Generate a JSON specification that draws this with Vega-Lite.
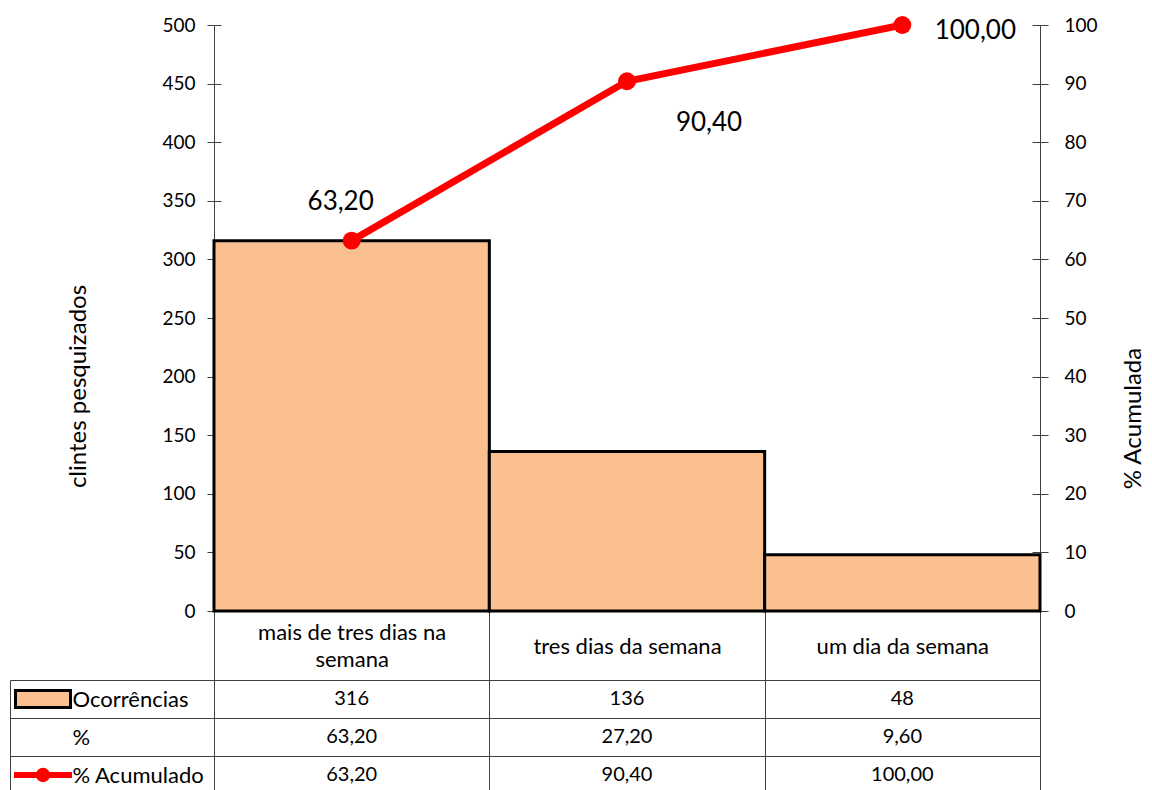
{
  "$schema": "https://vega.github.io/schema/vega-lite/v6.json",
  "background": "white",
  "padding": {"left": 2, "top": 11, "right": 0, "bottom": 0},
  "config": {
    "view": {"stroke": null},
    "font": "Lato",
    "axis": {
      "labelFont": "Lato",
      "titleFont": "Lato",
      "labelColor": "#000000",
      "titleColor": "#000000",
      "titleFontWeight": "normal",
      "labelFontSize": 19,
      "titleFontSize": 24,
      "domainColor": "#404040",
      "tickColor": "#404040",
      "grid": false
    },
    "locale": {
      "number": {"decimal": ",", "thousands": ".", "grouping": [3], "currency": ["R$", ""]}
    }
  },
  "datasets": {
    "pareto": [
      {"categoria": "mais de tres dias na semana", "ocorrencias": 316, "percentual": 63.2, "acumulado": 63.2},
      {"categoria": "tres dias da semana", "ocorrencias": 136, "percentual": 27.2, "acumulado": 90.4},
      {"categoria": "um dia da semana", "ocorrencias": 48, "percentual": 9.6, "acumulado": 100}
    ]
  },
  "data": {"name": "pareto"},
  "bounds": "flush",
  "spacing": 69,
  "vconcat": [
    {
      "width": 826,
      "height": 586,
      "encoding": {
        "x": {
          "field": "categoria",
          "type": "nominal",
          "sort": null,
          "scale": {"paddingInner": 0, "paddingOuter": 0},
          "axis": {
            "title": null,
            "labelAngle": 0,
            "tickBand": "extent",
            "tickSize": 69,
            "domainColor": "#000000",
            "labelFontSize": 22,
            "labelPadding": {
              "condition": {"test": "datum.value == 'mais de tres dias na semana'", "value": -48},
              "value": -34
            },
            "labelBaseline": "middle",
            "labelLimit": 280,
            "labelLineHeight": 27,
            "labelExpr": "datum.label == 'mais de tres dias na semana' ? ['mais de tres dias na', 'semana'] : datum.label"
          }
        }
      },
      "layer": [
        {
          "mark": {"type": "bar", "fill": "#FAC090", "stroke": "#000000", "strokeWidth": 3},
          "encoding": {
            "y": {
              "field": "ocorrencias",
              "type": "quantitative",
              "scale": {"domain": [0, 500], "nice": false},
              "axis": {
                "orient": "left",
                "values": [0, 50, 100, 150, 200, 250, 300, 350, 400, 450, 500],
                "format": "d",
                "tickSize": 7,
                "labelPadding": 12,
                "title": "clintes pesquizados",
                "titleAngle": 270,
                "titleAlign": "center",
                "titleBaseline": "middle",
                "titleX": -136,
                "titleY": 361
              }
            }
          }
        },
        {
          "mark": {"type": "line", "stroke": "#FF0000", "strokeWidth": 7},
          "encoding": {
            "y": {
              "field": "acumulado",
              "type": "quantitative",
              "scale": {"domain": [0, 100], "nice": false},
              "axis": {
                "orient": "right",
                "values": [0, 10, 20, 30, 40, 50, 60, 70, 80, 90, 100],
                "format": "d",
                "tickSize": 8,
                "labelPadding": 16,
                "title": "% Acumulada",
                "titleAngle": 270,
                "titleAlign": "center",
                "titleBaseline": "middle",
                "titleX": 93,
                "titleY": 393
              }
            }
          }
        },
        {
          "mark": {"type": "circle", "size": 320, "color": "#FF0000", "opacity": 1},
          "encoding": {
            "y": {
              "field": "acumulado",
              "type": "quantitative",
              "scale": {"domain": [0, 100], "nice": false},
              "axis": {
                "orient": "left",
                "values": [0, 10, 20, 30, 40, 50, 60, 70, 80, 90, 100],
                "tickSize": -7,
                "labels": false,
                "domain": false,
                "title": null
              }
            }
          }
        },
        {
          "encoding": {
            "y": {
              "field": "acumulado",
              "type": "quantitative",
              "scale": {"domain": [0, 100], "nice": false},
              "axis": {
                "orient": "right",
                "values": [0, 10, 20, 30, 40, 50, 60, 70, 80, 90, 100],
                "tickSize": -8,
                "labels": false,
                "domain": false,
                "title": null
              }
            },
            "text": {"field": "acumulado", "type": "quantitative", "format": ".2f"}
          },
          "layer": [
            {
              "transform": [{"filter": "datum.categoria == 'mais de tres dias na semana'"}],
              "mark": {"type": "text", "fontSize": 26, "dx": -11, "dy": -39, "color": "#000000"}
            },
            {
              "transform": [{"filter": "datum.categoria == 'tres dias da semana'"}],
              "mark": {"type": "text", "fontSize": 26, "dx": 82, "dy": 42, "color": "#000000"}
            },
            {
              "transform": [{"filter": "datum.categoria == 'um dia da semana'"}],
              "mark": {"type": "text", "fontSize": 26, "dx": 73, "dy": 6, "color": "#000000"}
            }
          ]
        }
      ],
      "resolve": {"scale": {"y": "independent"}}
    },
    {
      "width": 826,
      "height": 114,
      "layer": [
        {
          "encoding": {
            "x": {
              "field": "categoria",
              "type": "nominal",
              "sort": null,
              "scale": {"paddingInner": 0, "paddingOuter": 0},
              "axis": {
                "title": null,
                "labels": false,
                "ticks": false,
                "domain": false,
                "grid": true,
                "tickBand": "extent",
                "gridColor": "#404040",
                "gridOpacity": 1
              }
            }
          },
          "layer": [
            {
              "mark": {"type": "text", "fontSize": 20, "color": "#000000"},
              "encoding": {
                "y": {
                  "datum": "Ocorrências",
                  "type": "nominal",
                  "scale": {"domain": ["Ocorrências", "%", "% Acumulado"], "paddingInner": 0, "paddingOuter": 0},
                  "axis": {
                    "orient": "left",
                    "title": null,
                    "offset": 204,
                    "domain": true,
                    "domainColor": "#404040",
                    "tickBand": "extent",
                    "tickSize": -204,
                    "grid": true,
                    "gridColor": "#404040",
                    "gridOpacity": 1,
                    "labelAlign": "left",
                    "labelBaseline": "middle",
                    "labelPadding": 142,
                    "labelFontSize": 22
                  }
                },
                "text": {"field": "ocorrencias", "type": "quantitative", "format": "d"}
              }
            },
            {
              "mark": {"type": "text", "fontSize": 20, "color": "#000000"},
              "encoding": {
                "y": {"datum": "%", "type": "nominal"},
                "text": {"field": "percentual", "type": "quantitative", "format": ".2f"}
              }
            },
            {
              "mark": {"type": "text", "fontSize": 20, "color": "#000000"},
              "encoding": {
                "y": {"datum": "% Acumulado", "type": "nominal"},
                "text": {"field": "acumulado", "type": "quantitative", "format": ".2f"}
              }
            }
          ]
        },
        {
          "data": {"values": [{"serie": "Ocorrências"}, {"serie": "% Acumulado"}]},
          "encoding": {
            "x": {
              "datum": "chave",
              "type": "nominal",
              "scale": {"range": [-204, -138], "paddingInner": 0, "paddingOuter": 0},
              "axis": null
            },
            "y": {"field": "serie", "type": "nominal"}
          },
          "layer": [
            {
              "transform": [{"filter": "datum.serie == 'Ocorrências'"}],
              "mark": {"type": "point", "shape": "M-1,-0.31H1V0.31H-1Z", "size": 3025, "filled": true, "fill": "#FAC090", "stroke": "#000000", "strokeWidth": 3, "opacity": 1}
            },
            {
              "transform": [{"filter": "datum.serie == '% Acumulado'"}],
              "mark": {"type": "point", "shape": "M-1,0H1", "size": 3364, "filled": false, "stroke": "#FF0000", "strokeWidth": 6, "opacity": 1}
            },
            {
              "transform": [{"filter": "datum.serie == '% Acumulado'"}],
              "mark": {"type": "circle", "size": 210, "color": "#FF0000", "opacity": 1}
            }
          ]
        }
      ],
      "resolve": {"scale": {"x": "independent"}}
    }
  ]
}
